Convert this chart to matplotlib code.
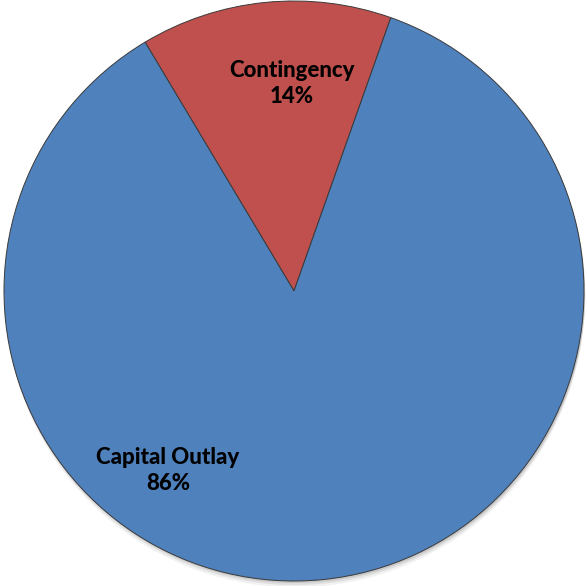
import matplotlib.pyplot as plt
from matplotlib.patches import Circle

# budget split
categories = ["Contingency", "Capital Outlay"]
shares = [14, 86]
colors = ["#C0504D", "#4F81BD"]

plt.rcParams['font.family'] = ['Lato', 'DejaVu Sans']

fig = plt.figure(figsize=(5.87, 5.86), dpi=100)
ax = fig.add_axes([0, 0, 1, 1])

# faint drop shadow, mostly below the pie
for dy, a in [(-0.022, 0.05), (-0.014, 0.08), (-0.007, 0.10)]:
    ax.add_patch(Circle((0.004, dy), 1.0, color="#000000", alpha=a, lw=0, zorder=0))

wedges, _ = ax.pie(shares, colors=colors, startangle=70.5, counterclock=True,
                   radius=1.0, wedgeprops=dict(edgecolor="#3a3a3a", linewidth=0.7))
for w in wedges:
    w.set_zorder(2)

# label positions for each slice
label_xy = [(-0.007, 0.717), (-0.435, -0.62)]
for name, val, (x, y) in zip(categories, shares, label_xy):
    ax.text(x, y, f"{name}\n{val}%", ha="center", va="center", fontsize=16,
            fontweight="black", color="black", linespacing=1.3, zorder=3)

ax.set_xlim(-294 / 290, 293 / 290)
ax.set_ylim(-295 / 290, 291 / 290)
ax.set_aspect("auto")
ax.axis("off")

fig.savefig("out.png", dpi=100, facecolor="white")
